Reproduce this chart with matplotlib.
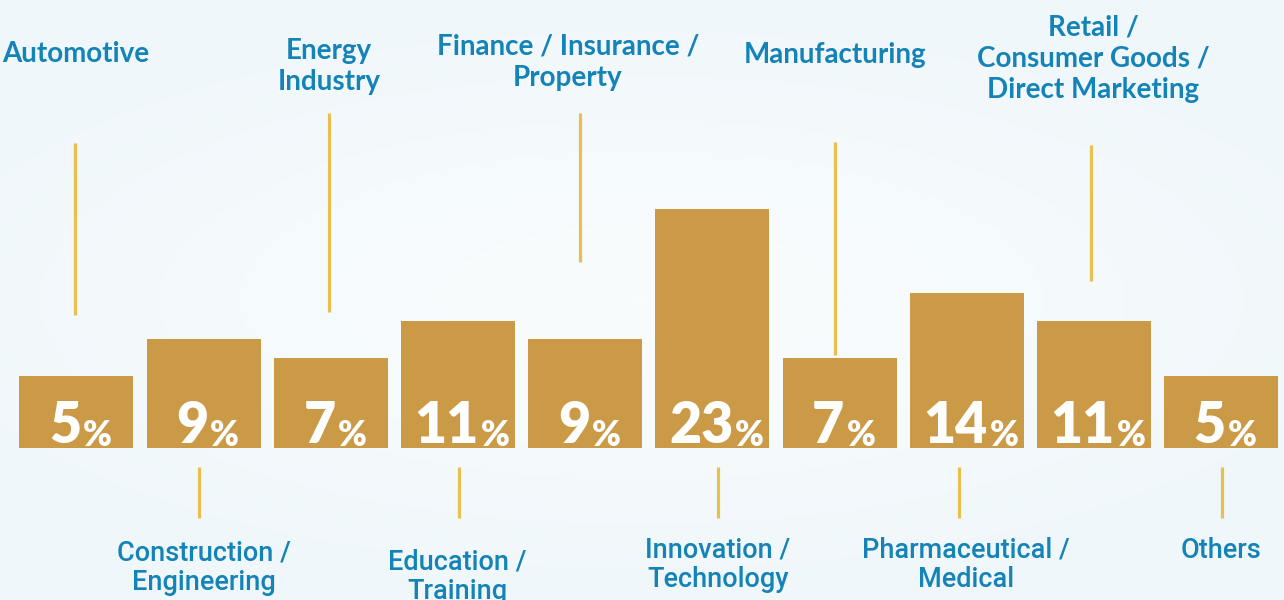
import numpy as np
import matplotlib
matplotlib.use("Agg")
import matplotlib.pyplot as plt
from matplotlib.colors import LinearSegmentedColormap

# ---------------- data ----------------
categories = ["Automotive", "Construction /\nEngineering", "Energy\nIndustry",
              "Education /\nTraining", "Finance / Insurance /\nProperty",
              "Innovation /\nTechnology", "Manufacturing",
              "Pharmaceutical /\nMedical", "Retail /\nConsumer Goods /\nDirect Marketing",
              "Others"]
values = [5, 9, 7, 11, 9, 23, 7, 14, 11, 5]

# ---------------- style / layout ----------------
W, H = 1284, 600
BAR_C = "#CB9A47"
TXT_C = "#1383B8"
LINE_C = "#E9BF4E"
X0_PX, PX_PER_X = 76.5, 127.2
BASE_PX, PX_PER_Y, OFFSET = 448, 9.3, 2.7

def xd(px):
    return (px - X0_PX) / PX_PER_X

def yd(py):
    return -OFFSET + (BASE_PX - py) / PX_PER_Y

fig = plt.figure(figsize=(W / 100, H / 100), dpi=100)
ax = fig.add_axes([0, 0, 1, 1])
ax.set_xlim(xd(0), xd(W))
ax.set_ylim(yd(H), yd(0))
ax.axis("off")

# background gradient (subtle)
gx, gy = np.meshgrid(np.linspace(-1, 1, 300), np.linspace(-1, 1, 150))
r = np.clip(np.sqrt((gx * 0.8) ** 2 + (gy * 1.0) ** 2), 0, 1)
bg_cmap = LinearSegmentedColormap.from_list("bg", ["#F9FCFD", "#F5FAFC", "#F0F7FA"])
ax.imshow(r, cmap=bg_cmap, extent=(xd(0), xd(W), yd(H), yd(0)), aspect="auto",
          zorder=0, interpolation="bicubic")

# bars
idx = np.arange(len(values))
vals = np.array(values, dtype=float)
ax.bar(idx, vals + OFFSET, bottom=-OFFSET, width=114 / PX_PER_X, color=BAR_C, zorder=2)

# percent labels
nums, pcts = [], []
for i, v in enumerate(values):
    tn = ax.text(i, yd(443), str(v), ha="left", va="baseline", color="white",
                 fontsize=40, fontweight="heavy", family="Lato", zorder=4)
    tp = ax.annotate("%", xy=(1, 0), xycoords=tn, xytext=(1.5, 0),
                     textcoords="offset points", ha="left", va="bottom",
                     color="white", fontsize=25, fontweight="heavy",
                     family="Lato", zorder=4)
    nums.append(tn)
    pcts.append(tp)

fig.canvas.draw()
rend = fig.canvas.get_renderer()
for i, (tn, tp) in enumerate(zip(nums, pcts)):
    b1 = tn.get_window_extent(rend)
    b2 = tp.get_window_extent(rend)
    gc = (b1.x0 + b2.x1) / 2.0
    target = X0_PX + i * PX_PER_X + 4
    tn.set_x(i + (target - gc) / PX_PER_X)

# connector lines and category labels
top_lines = {0: (75, 143, 315), 2: (329, 113, 312), 4: (580, 113, 262),
             6: (835, 142, 355), 8: (1091, 145, 281)}
bot_lines = {1: (199, 467, 518), 3: (459, 467, 518), 5: (718, 467, 518),
             7: (959, 467, 518), 9: (1222, 467, 518)}
for d in (top_lines, bot_lines):
    for i, (px, y0, y1) in d.items():
        ax.plot([xd(px), xd(px)], [yd(y0), yd(y1)], color=LINE_C, lw=2.3,
                solid_capstyle="butt", zorder=3)

# label anchors: (center x px, center y px)
top_pos = {0: (76, 54), 2: (329, 66.5), 4: (568, 62.5), 6: (835, 55), 8: (1093, 58.5)}
bot_pos = {1: (204, 567.5), 3: (457, 577), 5: (718, 564.5), 7: (966, 564.5), 9: (1221, 550)}
for i, (px, py) in top_pos.items():
    ax.text(xd(px), yd(py), categories[i], ha="center", va="center", color=TXT_C,
            fontsize=20, fontweight="bold", family="Lato", linespacing=1.26,
            multialignment="center", zorder=4)
for i, (px, py) in bot_pos.items():
    ax.text(xd(px), yd(py), categories[i], ha="center", va="center", color=TXT_C,
            fontsize=19.5, fontweight="medium", family="Roboto", linespacing=1.1,
            multialignment="center", zorder=4)

fig.savefig("out.png", dpi=100)
